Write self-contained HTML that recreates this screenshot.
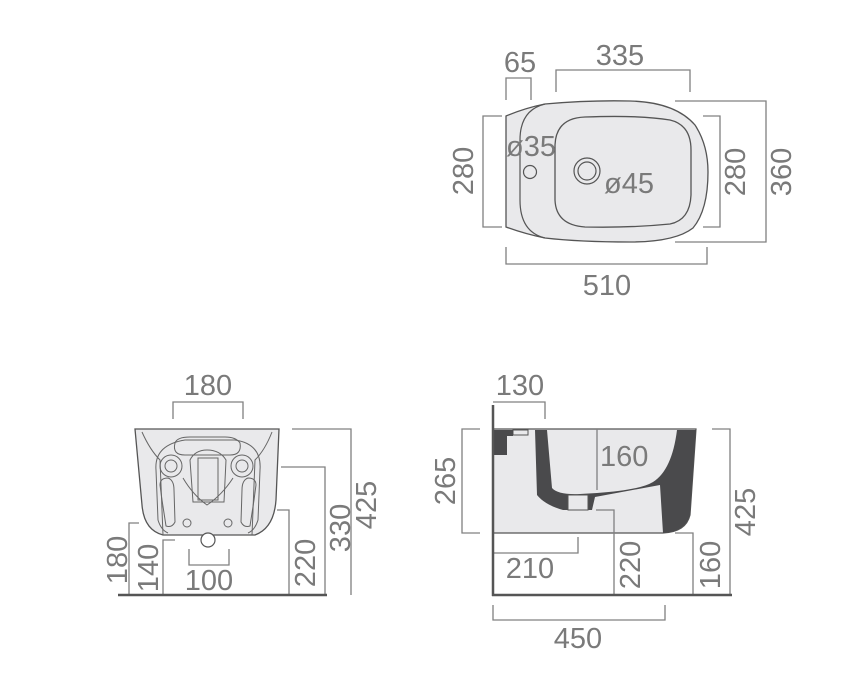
<!DOCTYPE html>
<html><head><meta charset="utf-8"><style>
html,body{margin:0;padding:0;background:#fff;}
svg{display:block;}
text{font-family:"Liberation Sans",sans-serif;font-size:29px;fill:#7a7a7a;}
</style></head><body>
<svg width="868" height="678" viewBox="0 0 868 678" xmlns="http://www.w3.org/2000/svg">
<g fill="none" stroke="#808080" stroke-width="1.3">
<path d="M506,100 V78 H531 V100"/>
<path d="M556,92 V70 H690 V92"/>
<path d="M502,116 H483 V227 H502"/>
<path d="M703,116 H720 V227 H703"/>
<path d="M675,101 H766 V242 H675"/>
<path d="M506,247 V264 H707 V247"/>
</g>
<path d="M506,116 Q525,108 545,104 Q590,100 630,101 Q675,102 695,125 Q708,145 708,172 Q708,210 693,228 Q675,242 630,242 Q580,242 545,238 Q525,234 506,227 Z" fill="#e9e9eb" stroke="#555" stroke-width="1.3"/>
<path d="M545,104 Q520,110 520,140 L520,200 Q520,232 545,238" fill="none" stroke="#555" stroke-width="1.2"/>
<path d="M585,117 Q640,115 670,120 Q691,125 691,150 L691,195 Q690,220 670,224 Q630,228 585,227 Q556,225 555,200 L555,145 Q556,118 585,117 Z" fill="none" stroke="#555" stroke-width="1.3"/>
<circle cx="530" cy="172" r="6.5" fill="none" stroke="#555" stroke-width="1.2"/>
<circle cx="587" cy="171" r="13" fill="none" stroke="#555" stroke-width="1.2"/>
<circle cx="587" cy="171" r="9" fill="none" stroke="#555" stroke-width="1.2"/>
<text x="520" y="72" text-anchor="middle">65</text>
<text x="620" y="65" text-anchor="middle">335</text>
<text x="506" y="156">ø35</text>
<text x="604" y="193">ø45</text>
<text x="607" y="295" text-anchor="middle">510</text>
<text transform="translate(473,171) rotate(-90)" text-anchor="middle">280</text>
<text transform="translate(745,172) rotate(-90)" text-anchor="middle">280</text>
<text transform="translate(791,172) rotate(-90)" text-anchor="middle">360</text>

<path d="M135,429 H279 L276,500 Q274,528 255,535 H163 Q144,530 142,505 Z" fill="#e9e9eb" stroke="#555" stroke-width="1.3"/>
<g fill="none" stroke="#666" stroke-width="1">
<path d="M142,432 Q150,450 160,460 L163,535"/>
<path d="M272,432 Q265,450 255,460 L252,535"/>
<path d="M156,470 Q154,445 185,440 H235 Q262,444 260,470 L258,520 Q255,530 248,533 M156,470 L158,520 Q161,530 168,533"/>
<path d="M175,443 Q172,455 185,455 H230 Q242,455 240,443 Q236,437 225,437 H190 Q177,437 175,443 Z"/>
<circle cx="171" cy="466" r="11"/><circle cx="171" cy="466" r="6"/>
<circle cx="242" cy="466" r="11"/><circle cx="242" cy="466" r="6"/>
<path d="M190,460 Q195,450 207,450 Q220,450 226,460 L224,502 H193 Z"/>
<path d="M198,458 H218 V500 H198 Z"/>
<path d="M183,478 Q193,495 207,505 Q222,495 233,478"/>
<path d="M160,485 Q160,478 168,478 Q174,480 174,490 L175,522 Q172,528 166,526 L162,500 Z"/>
<path d="M256,485 Q256,478 248,478 Q242,480 242,490 L241,522 Q244,528 250,526 L254,500 Z"/>
<circle cx="187" cy="523" r="4"/><circle cx="228" cy="523" r="4"/>
</g>
<circle cx="208" cy="540" r="7" fill="#fff" stroke="#555" stroke-width="1.2"/>
<g fill="none" stroke="#808080" stroke-width="1.3">
<path d="M173,419 V402 H243 V419"/>
<path d="M292,429 H351 V595"/>
<path d="M281,467 H325 V595"/>
<path d="M277,510 H289 V595"/>
<path d="M139,523 H129 V595"/>
<path d="M175,540 H163 V595"/>
<path d="M189,549 V565 H229 V549"/>
</g>
<line x1="118" y1="595" x2="327" y2="595" stroke="#555" stroke-width="2.5"/>
<text x="208" y="395" text-anchor="middle">180</text>
<text x="209" y="590" text-anchor="middle">100</text>
<text transform="translate(127,560) rotate(-90)" text-anchor="middle">180</text>
<text transform="translate(158,568) rotate(-90)" text-anchor="middle">140</text>
<text transform="translate(315,563) rotate(-90)" text-anchor="middle">220</text>
<text transform="translate(350,528) rotate(-90)" text-anchor="middle">330</text>
<text transform="translate(376,505) rotate(-90)" text-anchor="middle">425</text>

<path d="M493,429 H696 L690,515 Q686,532 663,533 H493 Z" fill="#e9e9eb" stroke="#555" stroke-width="1.2"/>
<path d="M535,430 L547,430 L552,488 Q558,495 580,494 L597,493 Q640,490 653,482 Q672,470 677,430 L696,430 L690,515 Q685,532 663,533 L660,485 L595,497 L592,510 L563,510 Q545,505 537,495 Z" fill="#4a4a4c"/>
<rect x="568" y="495" width="20" height="15" fill="#e9e9eb" stroke="#555" stroke-width="1"/>
<rect x="513" y="430" width="15" height="5" fill="#e9e9eb" stroke="#555" stroke-width="1"/>
<path d="M494,430 H513 V436 H507 V455 H494 Z" fill="#4a4a4c"/>
<g fill="none" stroke="#808080" stroke-width="1.3">
<path d="M493,402 H545 V419"/>
<path d="M480,429 H462 V533 H480"/>
<path d="M712,429 H730 V595"/>
<path d="M597,429 V490"/>
<path d="M493,553 H578 V537"/>
<path d="M596,510 H614 V595"/>
<path d="M675,533 H693 V595"/>
<path d="M493,605 V620 H665 V605"/>
</g>
<line x1="493" y1="405" x2="493" y2="596" stroke="#555" stroke-width="2.5"/>
<line x1="492" y1="595" x2="732" y2="595" stroke="#555" stroke-width="2.5"/>
<text x="520" y="395" text-anchor="middle">130</text>
<text x="600" y="466">160</text>
<text x="530" y="578" text-anchor="middle">210</text>
<text x="578" y="648" text-anchor="middle">450</text>
<text transform="translate(455,481) rotate(-90)" text-anchor="middle">265</text>
<text transform="translate(640,565) rotate(-90)" text-anchor="middle">220</text>
<text transform="translate(720,565) rotate(-90)" text-anchor="middle">160</text>
<text transform="translate(755,512) rotate(-90)" text-anchor="middle">425</text>
</svg>
</body></html>
